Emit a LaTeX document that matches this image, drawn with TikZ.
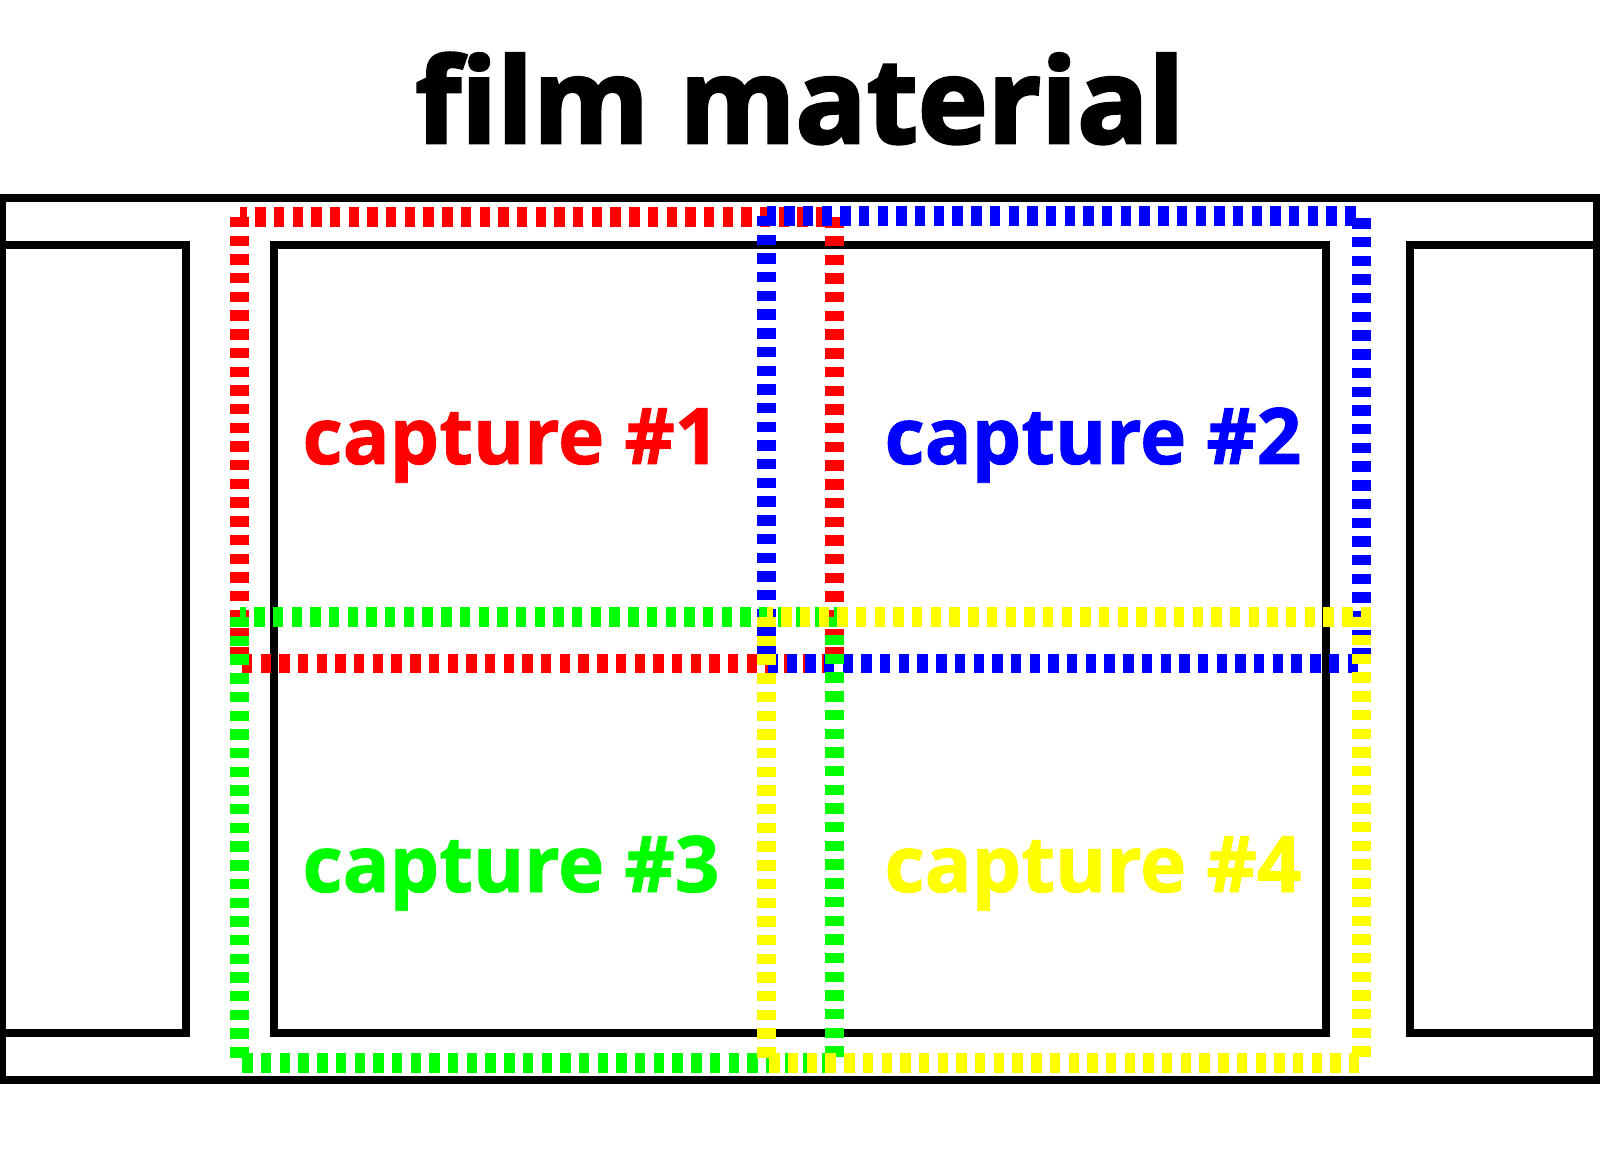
\documentclass[tikz,border=0pt]{standalone}
\usepackage{fontspec}
\setmainfont{Open Sans}[BoldFeatures={FakeBold=1.2}]
\newfontfamily\titlefont{Open Sans}[BoldFeatures={FakeBold=2.5}]
\definecolor{shotred}{RGB}{255,0,0}
\definecolor{shotblue}{RGB}{0,0,255}
\definecolor{shotgreen}{RGB}{0,255,0}
\definecolor{shotyellow}{RGB}{255,255,0}
\begin{document}
\begin{tikzpicture}[x=0.5pt, y=-0.5pt,
                    frame/.style={draw, line width=4pt},
                    shot/.style={line width=9.75pt, dash pattern=on 5.2pt off 4.15pt},
                    caption/.style={font=\fontsize{39}{41}\selectfont\bfseries, anchor=base, inner sep=0}]
                \useasboundingbox (0,0) rectangle (1600,1149);
                \node (title) [anchor=base, inner sep=0, font=\titlefont\fontsize{59}{61}\selectfont\bfseries] at (800,143) {film material};

                % film strip and its frames
                \draw [frame] (2,198) rectangle (1597,1080);
                \draw [frame] (2,245.5) rectangle (186,1033);
                \draw [frame] (273.5,245.5) rectangle (1326,1033);
                \draw [frame] (1409.5,245.5) rectangle (1597,1033);

                % the four captures
                \draw [shot, shotred] (239.5,217) rectangle (834.5,663.5);
                \draw [shot, shotblue] (766.5,216) rectangle (1361.5,663.5);
                \draw [shot, shotgreen] (239.5,617) rectangle (834.5,1063);
                \draw [shot, shotyellow] (766.5,617) rectangle (1361.5,1063);

                \node (cap1) [caption, shotred] at (511,464) {capture \#1};
                \node (cap2) [caption, shotblue] at (1093,464) {capture \#2};
                \node (cap3) [caption, shotgreen] at (511,892) {capture \#3};
                \node (cap4) [caption, shotyellow] at (1093,892) {capture \#4};
            \end{tikzpicture}
\end{document}
